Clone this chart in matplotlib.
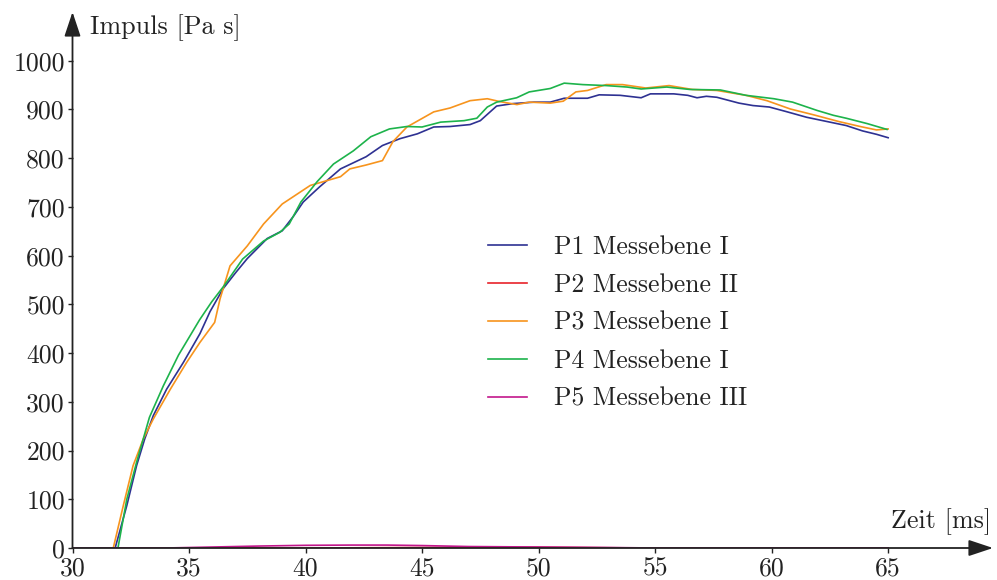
import matplotlib
matplotlib.use("Agg")
import matplotlib.pyplot as plt
from matplotlib.patches import ArrowStyle

# Zeit [ms] / Impuls [Pa s] for each sensor
t_p1 = [30, 31.83, 32.33, 32.75, 33.1, 33.47, 34.04, 34.76, 35.47, 35.9, 36.46, 37.0, 37.5, 38.35,
        39.0, 39.5, 39.9, 40.6, 41.5, 42.6, 43.3, 44.05, 44.8, 45.5, 46.2, 47.06, 47.5, 48.2,
        48.9, 49.8, 50.5, 51.1, 52.1, 52.6, 53.5, 54.4, 54.8, 55.8, 56.4, 56.8, 57.2, 57.65,
        58.6, 59.2, 59.9, 60.6, 61.5, 62.5, 63.2, 63.9, 64.5, 65.0]
p1 = [0, 0, 87, 169, 224, 272, 326, 381, 440, 485, 532, 565, 594, 635,
      651, 682, 710, 741, 778, 803, 826, 840, 850, 864, 865, 869, 877, 907,
      912, 915, 915, 923, 923, 930, 929, 924, 932, 932, 929, 924, 927, 925,
      913, 908, 905, 896, 884, 874, 867, 856, 849, 842]

t_p2 = [30, 40, 45, 50, 53, 55, 65]
p2 = [0, 0, 1, 1.5, 0.5, 0, 0]

t_p3 = [30, 31.75, 32.18, 32.6, 33.04, 33.47, 34.2, 34.9, 35.47, 36.1, 36.33, 36.76, 37.5, 38.2,
        39.0, 40.2, 41.5, 41.9, 42.6, 43.3, 43.75, 44.35, 45.5, 46.2, 47.06, 47.8, 48.35, 49.07,
        49.6, 50.5, 51.06, 51.6, 52.1, 52.9, 53.6, 54.6, 55.6, 56.6, 57.65, 58.9, 59.8, 60.8,
        61.8, 62.9, 63.8, 64.5, 65.0]
p3 = [0, 0, 87, 169, 224, 265, 326, 381, 422, 463, 511, 579, 620, 665,
      706, 744, 762, 778, 786, 795, 834, 864, 895, 903, 918, 922, 916, 910,
      915, 913, 917, 936, 939, 951, 951, 944, 949, 941, 939, 929, 918, 901,
      889, 875, 865, 858, 860]

t_p4 = [30, 31.95, 32.33, 32.75, 33.3, 33.9, 34.55, 35.45, 35.97, 36.5, 37.3, 38.2, 38.9, 39.3,
        39.8, 40.5, 41.2, 42.05, 42.8, 43.6, 44.35, 45.0, 45.8, 46.8, 47.35, 47.8, 48.2, 49.06,
        49.6, 50.5, 51.1, 51.9, 52.9, 53.8, 54.4, 55.5, 56.5, 57.8, 58.9, 60.1, 60.9, 61.95,
        62.65, 63.2, 64.1, 64.95]
p4 = [0, 0, 100, 176, 268, 333, 396, 468, 505, 538, 593, 630, 648, 665,
      710, 752, 788, 815, 844, 860, 865, 864, 874, 877, 882, 905, 915, 924,
      936, 943, 954, 951, 949, 946, 942, 946, 941, 940, 929, 922, 915, 898,
      888, 882, 871, 859]

t_p5 = [30, 34, 36, 38, 40, 42, 43.5, 45, 47, 50, 53, 55, 65]
p5 = [0, 0, 2, 4, 5.5, 6, 6, 5, 3, 2, 1, 0, 0]

labels = ["P1 Messebene I", "P2 Messebene II", "P3 Messebene I",
          "P4 Messebene I", "P5 Messebene III"]
colors = ["#2e3192", "#e8232a", "#f7941d", "#1db34b", "#c2168b"]

x_ticks = [30, 35, 40, 45, 50, 55, 60, 65]
y_ticks = [0, 100, 200, 300, 400, 500, 600, 700, 800, 900, 1000]

plt.rcParams["font.family"] = ["cmr10", "DejaVu Serif"]
plt.rcParams["mathtext.fontset"] = "cm"
plt.rcParams["axes.unicode_minus"] = False
fs = 18.5
ink = "#222222"

fig = plt.figure(figsize=(9.97, 5.8), dpi=100)
ax = fig.add_axes([72.5 / 997, 32 / 580, (993 - 72.5) / 997, (548 - 12) / 580])

series = [(t_p1, p1), (t_p2, p2), (t_p3, p3), (t_p4, p4), (t_p5, p5)]
for (t, v), c, lab in zip(series, colors, labels):
    ax.plot(t, v, color=c, lw=1.2, label=lab, solid_joinstyle="round")

ax.set_xlim(30, 69.5)
ax.set_ylim(0, 1100)
ax.set_xticks(x_ticks)
ax.set_yticks(y_ticks)
ax.tick_params(direction="out", length=3.5, width=1.0, labelsize=fs, colors=ink)
ax.tick_params(axis="x", pad=2.5)
ax.tick_params(axis="y", pad=2)
for s in ax.spines.values():
    s.set_visible(False)

arrow = ArrowStyle("-|>", head_length=1.5, head_width=0.5)
for tip in [(1, 0), (0, 1)]:
    ax.annotate("", xy=tip, xytext=(0, 0), xycoords="axes fraction",
                arrowprops=dict(arrowstyle=arrow, color=ink, lw=1.3,
                                mutation_scale=10, shrinkA=0, shrinkB=0))

fig.text(90 / 997, 1 - 28 / 580, "Impuls [Pa s]", fontsize=18.8, va="center",
         ha="left", color=ink)
fig.text(991 / 997, 1 - 522 / 580, "Zeit [ms]", fontsize=18.8, va="center",
         ha="right", color=ink)

leg = ax.legend(loc="center left", bbox_to_anchor=(488 / 997, 1 - 323 / 580),
                bbox_transform=fig.transFigure, frameon=False, fontsize=18.5,
                handlelength=1.5, handletextpad=1.05, labelspacing=0.55,
                borderpad=0, borderaxespad=0)
for txt in leg.get_texts():
    txt.set_color(ink)

fig.savefig("out.png", dpi=100)
